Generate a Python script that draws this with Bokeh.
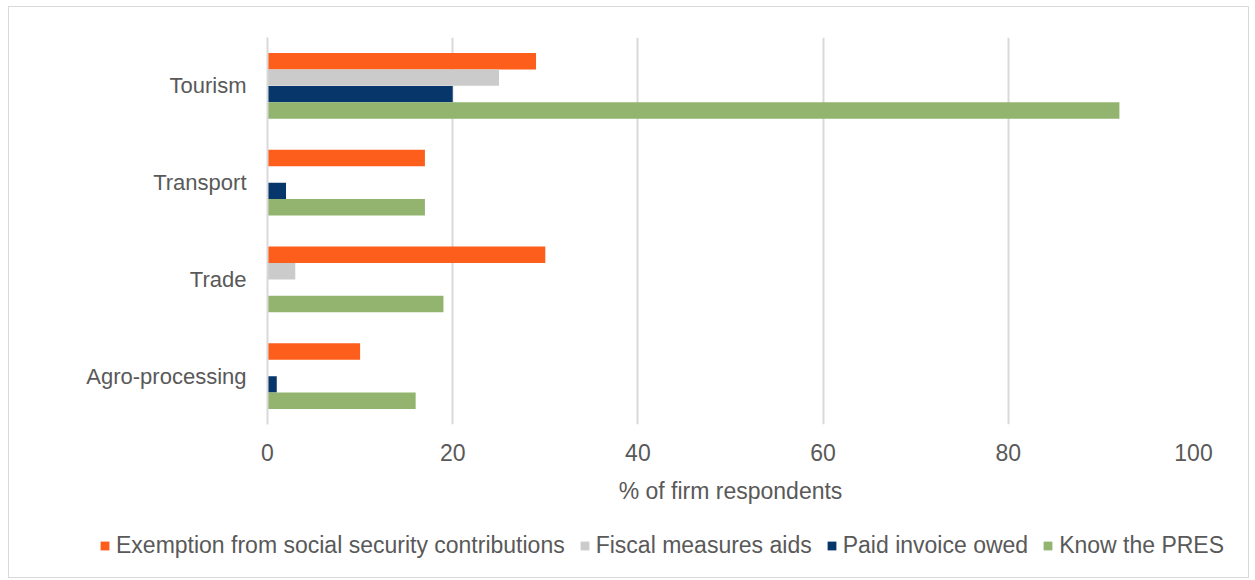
from bokeh.plotting import figure
from bokeh.layouts import column
from bokeh.models import ColumnDataSource, Legend, LegendItem, FixedTicker
from bokeh.transform import dodge
from bokeh.embed import file_html
from bokeh.resources import INLINE

sectors = ["Tourism", "Transport", "Trade", "Agro-processing"]
exemption = [29, 17, 30, 10]
fiscal = [25, 0, 3, 0]
paid_invoice = [20, 2, 0, 1]
know_pres = [92, 17, 19, 16]

series_names = ["Exemption from social security contributions", "Fiscal measures aids",
                "Paid invoice owed", "Know the PRES"]
colors = ["#FE5E1C", "#CBCBCB", "#06366A", "#92B46E"]
offsets = [0.255, 0.085, -0.085, -0.255]
x_ticks = [0, 20, 40, 60, 80, 100]

FONT = "Liberation Sans"
TXT = "#595959"

src = ColumnDataSource(dict(sector=sectors, s0=exemption, s1=fiscal, s2=paid_invoice, s3=know_pres))

p = figure(width=1239, height=512, y_range=list(reversed(sectors)), x_range=(0, 100),
           output_backend="svg", toolbar_location=None,
           min_border_left=258, min_border_right=55, min_border_top=30, min_border_bottom=95)
p.outline_line_color = None
p.frame_align = False

for i, key in enumerate(["s0", "s1", "s2", "s3"]):
    p.hbar(y=dodge("sector", offsets[i], range=p.y_range), right=key, left=0, height=0.17,
           source=src, fill_color=colors[i], line_color=None)

p.xaxis.ticker = FixedTicker(ticks=x_ticks)
p.xaxis.axis_line_color = None
p.xaxis.major_tick_line_color = None
p.xaxis.minor_tick_line_color = None
p.xaxis.major_label_text_font = FONT
p.xaxis.major_label_text_font_size = "23px"
p.xaxis.major_label_text_color = TXT
p.xaxis.major_label_standoff = 13
p.xaxis.axis_label = "% of firm respondents"
p.xaxis.axis_label_text_font = FONT
p.xaxis.axis_label_text_font_size = "23px"
p.xaxis.axis_label_text_font_style = "normal"
p.xaxis.axis_label_text_color = TXT
p.xaxis.axis_label_standoff = 14

p.yaxis.axis_line_color = "#D9D9D9"
p.yaxis.axis_line_width = 2
p.yaxis.major_tick_line_color = None
p.yaxis.minor_tick_line_color = None
p.yaxis.major_label_text_font = FONT
p.yaxis.major_label_text_font_size = "22px"
p.yaxis.major_label_text_color = TXT
p.yaxis.major_label_standoff = 15

p.xgrid.grid_line_color = "#D9D9D9"
p.xgrid.grid_line_width = 2
p.ygrid.grid_line_color = None

# legend strip below the chart (swatch renderers are zero-width bars)
lf = figure(width=1239, height=58, output_backend="svg", toolbar_location=None,
            min_border=0, x_range=(0, 1), y_range=(0, 1),
            x_axis_location=None, y_axis_location=None)
lf.grid.visible = False
lf.outline_line_color = None
lf.frame_align = False
items = []
for i in range(4):
    r = lf.hbar(y=[0.5], right=[0], left=[0], height=0.1, fill_color=colors[i], line_color=None)
    items.append(LegendItem(label=series_names[i], renderers=[r]))
legend = Legend(items=items, orientation="horizontal", location=(90, 18),
                label_text_font=FONT, label_text_font_size="23px", label_text_color=TXT,
                glyph_width=11, glyph_height=11, spacing=14, label_standoff=6,
                border_line_color=None, background_fill_alpha=0, margin=0, padding=0)
lf.add_layout(legend, "center")

layout = column(p, lf, spacing=0,
                styles={"border": "1.5px solid #D9D9D9", "margin-left": "8px", "margin-top": "6px"})

open("out.html", "w").write(file_html(layout, INLINE))
